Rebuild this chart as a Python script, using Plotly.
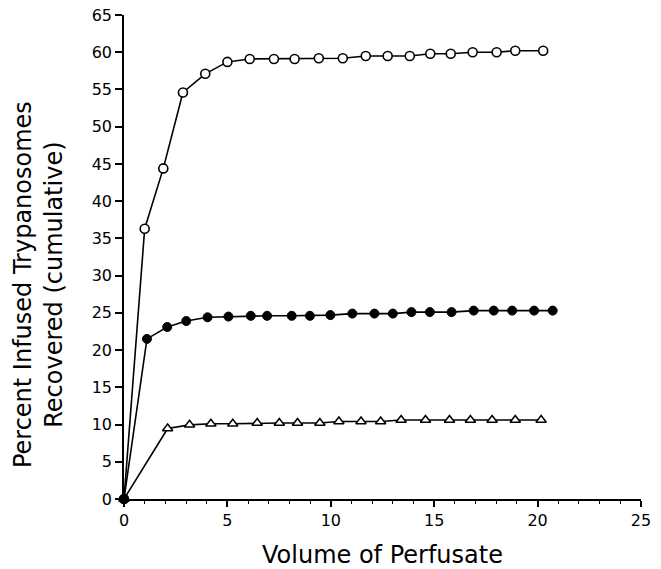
import plotly.graph_objects as go

# Open circles (top series)
x_open = [0, 1.0, 1.9, 2.85, 3.93, 5.0, 6.08, 7.25, 8.25, 9.42, 10.58, 11.69,
          12.75, 13.82, 14.81, 15.8, 16.86, 18.02, 18.92, 20.27]
y_open = [0, 36.3, 44.4, 54.6, 57.1, 58.7, 59.1, 59.1, 59.1, 59.2, 59.2, 59.5,
          59.5, 59.5, 59.8, 59.8, 60.0, 60.0, 60.2, 60.2]

# Filled circles (middle series)
x_filled = [0, 1.11, 2.09, 3.01, 4.04, 5.05, 6.13, 6.92, 8.11, 8.99, 9.98, 11.04,
            12.11, 13.0, 13.9, 14.79, 15.84, 16.91, 17.88, 18.77, 19.83, 20.73]
y_filled = [0, 21.5, 23.1, 23.9, 24.4, 24.5, 24.6, 24.6, 24.6, 24.6, 24.7, 24.9,
            24.9, 24.9, 25.1, 25.1, 25.1, 25.3, 25.3, 25.3, 25.3, 25.3]

# Open triangles (bottom series)
x_tri = [0, 2.11, 3.17, 4.2, 5.26, 6.44, 7.51, 8.39, 9.47, 10.39, 11.46, 12.41,
         13.4, 14.58, 15.74, 16.75, 17.8, 18.92, 20.17]
y_tri = [0, 9.46, 9.96, 10.1, 10.1, 10.2, 10.2, 10.2, 10.2, 10.4, 10.4, 10.4,
         10.6, 10.6, 10.6, 10.6, 10.6, 10.6, 10.6]

x_ticks = [0, 5, 10, 15, 20, 25]
y_ticks = [0, 5, 10, 15, 20, 25, 30, 35, 40, 45, 50, 55, 60, 65]

x_title = "Volume of Perfusate"
y_title = "Percent Infused Trypanosomes<br>Recovered (cumulative)"

FONT = "DejaVu Sans"

fig = go.Figure()

fig.add_trace(go.Scatter(
    x=x_tri, y=y_tri, mode="lines+markers",
    line=dict(color="black", width=1.6),
    marker=dict(symbol="triangle-up", size=9, color="white",
                line=dict(color="black", width=1.5)),
    cliponaxis=False, showlegend=False))

fig.add_trace(go.Scatter(
    x=x_filled, y=y_filled, mode="lines+markers",
    line=dict(color="black", width=1.6),
    marker=dict(symbol="circle", size=9, color="black",
                line=dict(color="black", width=1)),
    cliponaxis=False, showlegend=False))

fig.add_trace(go.Scatter(
    x=x_open, y=y_open, mode="lines+markers",
    line=dict(color="black", width=1.6),
    marker=dict(symbol="circle", size=9, color="white",
                line=dict(color="black", width=1.6)),
    cliponaxis=False, showlegend=False))

# origin marker (filled)
fig.add_trace(go.Scatter(
    x=[x_filled[0]], y=[y_filled[0]], mode="markers",
    marker=dict(symbol="circle", size=9, color="black"),
    cliponaxis=False, showlegend=False))

fig.add_annotation(
    text=y_title, textangle=-90, showarrow=False,
    xref="paper", yref="paper", x=0, y=0.442,
    xanchor="center", yanchor="middle", xshift=-86,
    font=dict(size=24, family=FONT, color="black"))

fig.update_layout(
    width=661, height=569,
    margin=dict(l=124, r=20, t=15, b=70, autoexpand=False),
    paper_bgcolor="white", plot_bgcolor="white",
    font=dict(family=FONT, color="black", size=15),
    xaxis=dict(
        range=[0, 25], tickvals=x_ticks, ticktext=[str(v) for v in x_ticks],
        automargin=False,
        showgrid=False, zeroline=False, showline=True, linecolor="black",
        linewidth=1.5, ticks="outside", ticklen=6, tickwidth=1.5, tickcolor="black",
        minor=dict(dtick=1, ticks="outside", ticklen=3, tickwidth=1, tickcolor="black"),
        tickfont=dict(size=16),
        title=dict(text=x_title, font=dict(size=24), standoff=19),
    ),
    yaxis=dict(
        range=[0, 65], tickvals=y_ticks, ticktext=[str(v) for v in y_ticks],
        automargin=False,
        showgrid=False, zeroline=False, showline=True, linecolor="black",
        linewidth=1.5, ticks="outside", ticklen=7, tickwidth=1.5, tickcolor="black",
        tickfont=dict(size=16),
    ),
)

fig.write_html("out.html", config={"displayModeBar": False},
               post_script="document.body.style.margin='0px';")
